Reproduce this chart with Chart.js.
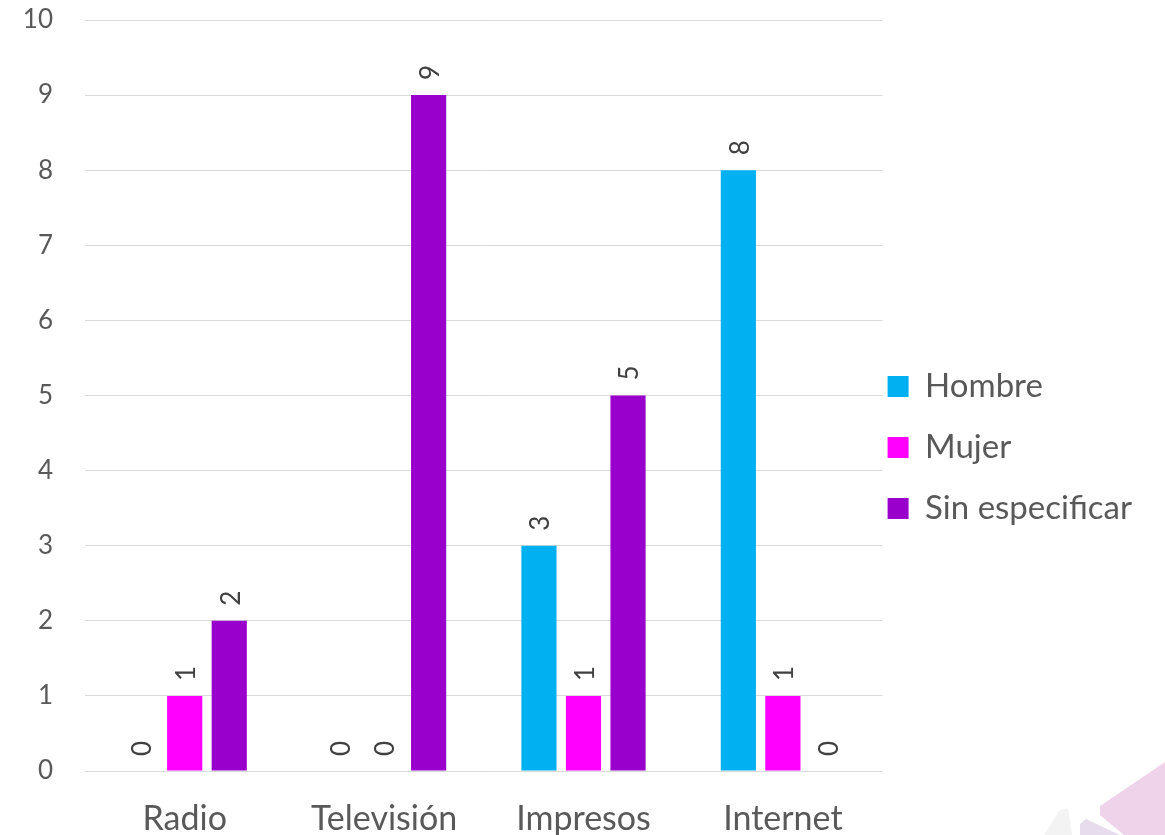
<!DOCTYPE html>
<html>
<head>
<meta charset="utf-8">
<script src="https://cdn.jsdelivr.net/npm/chart.js@4"></script>
<style>
  html, body { margin: 0; padding: 0; background: #fff; }
</style>
</head>
<body>
<canvas id="mediaChart" width="1165" height="835"></canvas>
<script>
// chart values
const categories = ['Radio', 'Televisión', 'Impresos', 'Internet'];
const hombre = [0, 0, 3, 8];
const mujer = [1, 0, 1, 1];
const sinEspecificar = [2, 9, 5, 0];
const seriesNames = ['Hombre', 'Mujer', 'Sin especificar'];
const yMin = 0;
const yMax = 10;
const yStep = 1;

const colors = ['#00B0F0', '#FF00FF', '#9900CC'];
const textColor = '#595959';

Chart.defaults.font.family = 'Lato';
Chart.defaults.color = textColor;

// value labels above each bar, reading bottom to top
const barLabels = {
    id: 'barLabels',
    afterDatasetsDraw(chart) {
        const ctx = chart.ctx;
        ctx.save();
        ctx.font = '26px Lato';
        ctx.fillStyle = '#404040';
        ctx.textAlign = 'left';
        ctx.textBaseline = 'middle';
        chart.data.datasets.forEach((ds, i) => {
            chart.getDatasetMeta(i).data.forEach((bar, j) => {
                ctx.save();
                ctx.translate(bar.x + 2, bar.y - 15);
                ctx.rotate(-Math.PI / 2);
                ctx.fillText(ds.data[j], 0, 0);
                ctx.restore();
            });
        });
        ctx.restore();
    }
};

// put the legend just right of the plot and a bit lower
const legendShift = {
    id: 'legendShift',
    afterLayout(chart) {
        const l = chart.legend;
        const pad = l.options.labels.padding;
        const dx = chart.chartArea.right + 5 - (l.left + pad);
        l.left += dx; l.right += dx;
        l.top += 20; l.bottom += 20;
    }
};

// faint decoration in the lower right corner
const cornerShapes = {
    id: 'cornerShapes',
    beforeDraw(chart) {
        const ctx = chart.ctx;
        ctx.save();
        ctx.fillStyle = '#f3f3f3';
        ctx.beginPath();
        ctx.moveTo(1044, 835); ctx.lineTo(1060, 810); ctx.lineTo(1068, 808); ctx.lineTo(1072, 835);
        ctx.closePath(); ctx.fill();
        ctx.fillStyle = '#e6dcee';
        ctx.beginPath();
        ctx.moveTo(1080, 835); ctx.lineTo(1080, 824); ctx.lineTo(1086, 819); ctx.lineTo(1120, 835);
        ctx.closePath(); ctx.fill();
        ctx.fillStyle = '#efd3ea';
        ctx.beginPath();
        ctx.moveTo(1100, 815); ctx.lineTo(1100, 806); ctx.lineTo(1165, 762); ctx.lineTo(1165, 835); ctx.lineTo(1124, 835);
        ctx.closePath(); ctx.fill();
        ctx.restore();
    }
};

const ctx = document.getElementById('mediaChart').getContext('2d');
const mediaChart = new Chart(ctx, {
    type: 'bar',
    data: {
        labels: categories,
        datasets: [
            { label: seriesNames[0], data: hombre, backgroundColor: colors[0] },
            { label: seriesNames[1], data: mujer, backgroundColor: colors[1] },
            { label: seriesNames[2], data: sinEspecificar, backgroundColor: colors[2] }
        ]
    },
    options: {
        responsive: false,
        animation: false,
        categoryPercentage: 0.67,
        barPercentage: 0.79,
        layout: { padding: { top: 20, right: 0, left: 0, bottom: 0 } },
        plugins: {
            legend: {
                position: 'right',
                labels: {
                    boxWidth: 21,
                    boxHeight: 21,
                    padding: 28,
                    color: textColor,
                    font: { size: 33 }
                }
            },
            tooltip: { enabled: false }
        },
        scales: {
            x: {
                grid: { display: false },
                border: { display: false },
                ticks: { font: { size: 34 }, color: textColor, padding: 20 },
                afterFit(scale) { scale.height = 64; }
            },
            y: {
                min: yMin,
                max: yMax,
                ticks: { stepSize: yStep, font: { size: 26 }, color: textColor, padding: 0 },
                grid: { color: '#d9d9d9', drawTicks: true, tickLength: 32, tickColor: 'rgba(0,0,0,0)' },
                border: { display: false },
                afterFit(scale) { scale.width = 85; }
            }
        }
    },
    plugins: [cornerShapes, barLabels, legendShift]
});
</script>
</body>
</html>
